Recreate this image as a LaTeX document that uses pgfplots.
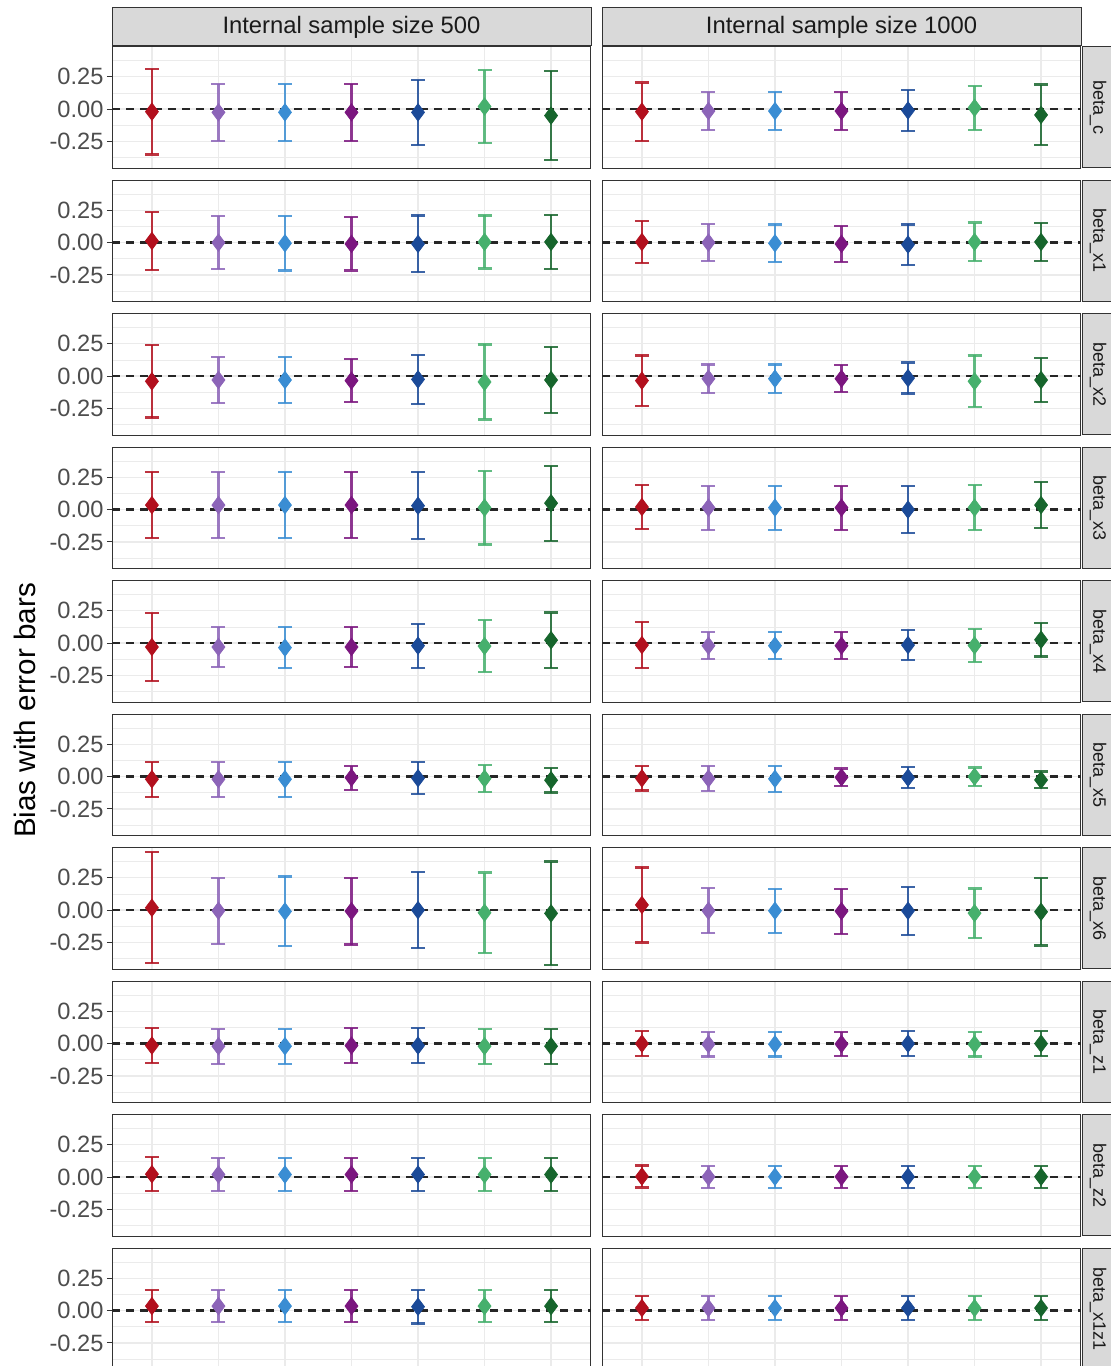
\documentclass[border=0pt]{standalone}
\usepackage{fontspec}
\setmainfont{Liberation Sans}
\usepackage{pgfplots}
\usepackage{pgfplotstable}
\pgfplotsset{compat=1.18}

\definecolor{c1}{HTML}{B2101E}
\definecolor{c2}{HTML}{8C64B8}
\definecolor{c3}{HTML}{3A8DD3}
\definecolor{c4}{HTML}{7B167F}
\definecolor{c5}{HTML}{1B4A98}
\definecolor{c6}{HTML}{46B06D}
\definecolor{c7}{HTML}{16652C}
\definecolor{gridc}{HTML}{EBEBEB}
\definecolor{border}{HTML}{333333}
\definecolor{stripc}{HTML}{D9D9D9}
\definecolor{ticklab}{HTML}{4D4D4D}
\definecolor{striptext}{HTML}{1A1A1A}

% x = model index; mA,hA = internal sample size 500 (mean, half width); mB,hB = 1000
\pgfplotstableread{
x mA hA mB hB
1 -0.020 0.330 -0.020 0.225
2 -0.025 0.220 -0.015 0.145
3 -0.025 0.220 -0.015 0.145
4 -0.025 0.220 -0.015 0.145
5 -0.025 0.250 -0.010 0.160
6  0.020 0.280  0.010 0.170
7 -0.050 0.345 -0.045 0.235
}\rowA
\pgfplotstableread{
x mA hA mB hB
1  0.013 0.225  0.005 0.160
2  0.000 0.205  0.000 0.145
3 -0.005 0.210 -0.005 0.145
4 -0.010 0.205 -0.010 0.140
5 -0.010 0.220 -0.015 0.155
6  0.005 0.205  0.005 0.150
7  0.005 0.210  0.005 0.145
}\rowB
\pgfplotstableread{
x mA hA mB hB
1 -0.040 0.280 -0.035 0.195
2 -0.030 0.175 -0.020 0.110
3 -0.030 0.175 -0.020 0.110
4 -0.035 0.165 -0.020 0.105
5 -0.025 0.190 -0.015 0.120
6 -0.045 0.290 -0.040 0.200
7 -0.030 0.255 -0.030 0.170
}\rowC
\pgfplotstableread{
x mA hA mB hB
1 0.035 0.255 0.020 0.170
2 0.035 0.255 0.015 0.170
3 0.035 0.255 0.015 0.170
4 0.035 0.255 0.015 0.170
5 0.030 0.260 0.000 0.180
6 0.015 0.285 0.015 0.175
7 0.050 0.290 0.035 0.180
}\rowD
\pgfplotstableread{
x mA hA mB hB
1 -0.030 0.260 -0.015 0.180
2 -0.030 0.155 -0.020 0.105
3 -0.035 0.160 -0.020 0.105
4 -0.030 0.157 -0.020 0.105
5 -0.020 0.170 -0.015 0.115
6 -0.023 0.200 -0.018 0.125
7  0.023 0.213  0.026 0.130
}\rowE
\pgfplotstableread{
x mA hA mB hB
1 -0.020 0.135 -0.013 0.095
2 -0.020 0.136 -0.015 0.097
3 -0.020 0.136 -0.017 0.100
4 -0.008 0.093 -0.005 0.067
5 -0.012 0.125 -0.008 0.080
6 -0.015 0.105  0.000 0.070
7 -0.028 0.095 -0.026 0.065
}\rowF
\pgfplotstableread{
x mA hA mB hB
1  0.018 0.428  0.040 0.290
2 -0.005 0.255 -0.005 0.173
3 -0.010 0.270 -0.005 0.171
4 -0.008 0.258 -0.008 0.174
5  0.000 0.293 -0.005 0.186
6 -0.020 0.310 -0.023 0.190
7 -0.025 0.400 -0.013 0.260
}\rowG
\pgfplotstableread{
x mA hA mB hB
1 -0.015 0.135  0.000 0.095
2 -0.020 0.135 -0.005 0.095
3 -0.020 0.135 -0.005 0.095
4 -0.015 0.135 -0.003 0.095
5 -0.015 0.135  0.000 0.095
6 -0.020 0.135 -0.005 0.095
7 -0.020 0.135  0.000 0.095
}\rowH
\pgfplotstableread{
x mA hA mB hB
1 0.023 0.130 0.005 0.085
2 0.020 0.130 0.003 0.085
3 0.020 0.130 0.003 0.085
4 0.020 0.130 0.003 0.085
5 0.020 0.130 0.003 0.085
6 0.020 0.130 0.003 0.085
7 0.020 0.130 0.003 0.085
}\rowI
\pgfplotstableread{
x mA hA mB hB
1 0.035 0.125 0.020 0.090
2 0.035 0.125 0.020 0.090
3 0.035 0.125 0.020 0.090
4 0.035 0.125 0.020 0.090
5 0.030 0.130 0.020 0.090
6 0.035 0.125 0.020 0.090
7 0.035 0.125 0.020 0.090
}\rowJ

\pgfplotsset{
  facet/.style={
    scale only axis, width=239.5pt, height=60.5pt,
    anchor=north west,
    xmin=0.4, xmax=7.6, ymin=-0.455, ymax=0.48,
    xtick={1,...,7}, xticklabels={}, xmajorgrids,
    ytick={-0.25,0,0.25}, minor ytick={-0.375,-0.125,0.125,0.375},
    ymajorgrids, yminorgrids,
    ytick pos=left, xtick pos=left,
    major grid style={color=gridc, line width=0.7pt},
    minor grid style={color=gridc, line width=0.35pt},
    axis line style={color=border, line width=0.5pt},
    tick align=outside,
    x tick style={draw=none},
    y tick style={color=border, line width=0.5pt},
    major tick length=2.6pt, minor tick length=0pt,
    yticklabel style={font=\fontsize{11.8}{12}\selectfont, text=ticklab, inner sep=0pt, xshift=-1.5pt},
  },
  leftfacet/.style={facet, yticklabels={-0.25,0.00,0.25}},
  rightfacet/.style={facet, yticklabels={}, major tick length=0pt},
}

\newcommand\onept[5]{%
  \addplot[#1, only marks, mark=diamond*, mark size=4.3pt,
    mark options={solid, fill=#1, draw=#1},
    error bars/.cd, y dir=both, y explicit,
    error bar style={line width=1.1pt, #1, opacity=0.85},
    error mark options={rotate=90, mark size=3.5pt, line width=1.1pt, #1, opacity=0.85}]
    table[x=x, y=#4, y error=#5, restrict x to domain=#2:#2] {#3};
}

\newcommand\panel[6]{%
  \begin{axis}[#6, at={(#1*0.5pt,{(1366-#2)*0.5pt})}]
    \onept{c1}{1}{#3}{#4}{#5}
    \onept{c2}{2}{#3}{#4}{#5}
    \onept{c3}{3}{#3}{#4}{#5}
    \onept{c4}{4}{#3}{#4}{#5}
    \onept{c5}{5}{#3}{#4}{#5}
    \onept{c6}{6}{#3}{#4}{#5}
    \onept{c7}{7}{#3}{#4}{#5}
    \addplot[black!85, line width=1.2pt, dash pattern=on 4pt off 3pt] coordinates {(0.4,0) (7.6,0)};
  \end{axis}
}

\newcommand\facetrow[3]{% #1 top px, #2 table, #3 label
  \panel{112}{#1}{#2}{mA}{hA}{leftfacet}
  \panel{602}{#1}{#2}{mB}{hB}{rightfacet}
  \begin{scope}[x=0.5pt, y=-0.5pt, yshift=683pt]
    \draw[fill=stripc, draw=border, line width=0.5pt] (1082,#1) rectangle (1122,#1+121);
    \node[rotate=-90, text=striptext, font=\fontsize{9}{10}\selectfont, inner sep=0pt] at (1098,#1+60.5) {#3};
  \end{scope}
}

\begin{document}
\begin{tikzpicture}
  \useasboundingbox (0,0) rectangle (555.5pt,683pt);
  \facetrow{47}{\rowA}{beta\_c}
  \facetrow{180.5}{\rowB}{beta\_x1}
  \facetrow{314}{\rowC}{beta\_x2}
  \facetrow{447.5}{\rowD}{beta\_x3}
  \facetrow{581}{\rowE}{beta\_x4}
  \facetrow{714.5}{\rowF}{beta\_x5}
  \facetrow{848}{\rowG}{beta\_x6}
  \facetrow{981.5}{\rowH}{beta\_z1}
  \facetrow{1115}{\rowI}{beta\_z2}
  \facetrow{1248.5}{\rowJ}{beta\_x1z1}
  \begin{scope}[x=0.5pt, y=-0.5pt, yshift=683pt]
    \draw[fill=stripc, draw=border, line width=0.5pt] (112,8) rectangle (591,46);
    \draw[fill=stripc, draw=border, line width=0.5pt] (602,8) rectangle (1081,46);
    \node[text=striptext, font=\fontsize{11.9}{13}\selectfont] at (351.5,27.5) {Internal sample size 500};
    \node[text=striptext, font=\fontsize{11.9}{13}\selectfont] at (841.5,27.5) {Internal sample size 1000};
    \node[rotate=90, font=\fontsize{14.8}{16}\selectfont] at (25,710.5) {Bias with error bars};
  \end{scope}
\end{tikzpicture}
\end{document}
